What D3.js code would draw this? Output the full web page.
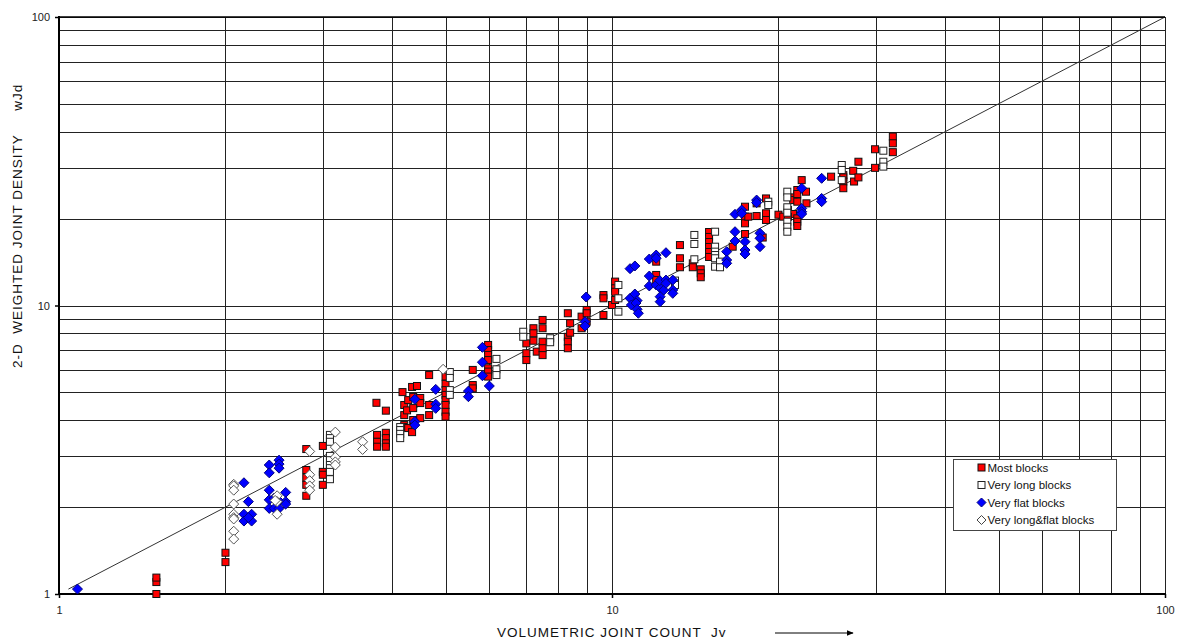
<!DOCTYPE html>
<html>
<head>
<meta charset="utf-8">
<script src="https://cdn.jsdelivr.net/npm/d3@7/dist/d3.min.js"></script>
<style>
  html, body { margin: 0; padding: 0; background: #fff; }
  svg { display: block; font-family: "Liberation Sans", Arial, sans-serif; }
</style>
</head>
<body>
<svg id="chart" width="1181" height="641"></svg>
<script>
// [Jv, wJd] pairs for each block class
const mostBlocks = [
  [1.5,1.0],[1.5,1.10],[1.5,1.14],
  [2.0,1.29],[2.0,1.39],
  [2.8,3.18],[2.8,2.69],[2.8,2.53],[2.8,2.39],[2.8,2.19],
  [3.0,3.26],[3.0,2.65],[3.0,2.59],[3.0,2.39],
  [3.75,4.60],[3.9,4.32],
  [3.76,3.56],[3.76,3.37],[3.76,3.24],
  [3.9,3.62],[3.9,3.47],[3.9,3.33],[3.9,3.24],
  [4.18,5.01],[4.21,4.52],[4.21,4.17],[4.21,3.85],[4.19,3.79],
  [4.28,4.70],[4.26,4.33],[4.28,3.76],
  [4.35,5.22],[4.44,5.26],[4.37,4.82],[4.37,4.41],[4.37,4.01],[4.35,3.64],
  [4.5,4.78],[4.5,4.59],[4.5,4.07],
  [4.67,5.74],[4.67,4.52],[4.67,4.17],
  [5.0,5.67],[5.0,5.35],[5.0,5.09],[5.0,4.90],[5.0,4.70],[5.0,4.52],[5.0,4.28],[5.0,4.12],
  [5.6,5.98],[5.6,5.30],[5.6,5.16],
  [5.97,7.30],[5.97,7.01],[5.97,6.74],[5.97,6.47],[5.97,6.06],[5.97,5.90],[5.97,5.67],
  [7.0,7.39],[7.0,6.83],[7.0,6.47],
  [7.21,8.34],[7.21,8.01],[7.21,7.55],[7.31,6.92],
  [7.49,8.91],[7.49,8.34],[7.49,7.49],[7.49,7.11],[7.49,6.73],
  [8.32,9.40],[8.32,7.79],[8.32,7.49],[8.32,7.11],
  [8.4,8.68],[8.4,8.05],
  [8.81,9.15],[8.81,8.34],[9.0,9.65],[9.0,9.40],[9.0,8.79],
  [9.65,10.87],[9.65,10.59],[9.65,9.27],
  [10.0,10.04],
  [10.13,12.1],[10.13,11.47],[10.13,11.16],[10.13,10.45],
  [12.02,14.19],[12.02,12.76],[12.02,12.25],
  [13.27,16.2],[13.27,14.58],[13.27,13.57],
  [14.0,14.0],[14.0,13.57],
  [14.47,13.35],[14.47,12.93],[14.47,12.53],
  [14.98,17.98],[14.98,17.28],[14.98,16.6],[14.98,15.95],[14.98,15.33],[14.98,14.73],
  [16.53,15.99],
  [17.4,22.0],[17.4,20.32],[17.4,19.27],[17.4,17.69],[17.64,20.32],
  [18.26,22.6],[18.26,20.42],
  [18.73,17.2],
  [18.99,23.5],[18.99,20.87],[18.99,19.79],
  [20.0,20.64],[20.4,20.32],[20.8,21.43],[21.25,20.76],[20.8,20.3],
  [21.27,23.7],[21.27,23.2],
  [21.63,25.14],[21.63,24.35],[21.63,22.9],[21.63,20.05],[21.63,19.52],[21.63,18.86],
  [22.03,27.2],[22.43,24.8],[22.47,22.6],
  [24.9,27.96],
  [26.2,28.3],[26.2,27.8],[26.2,26.9],[26.2,25.5],
  [27.3,29.3],[27.4,26.9],[27.9,31.5],[27.9,27.8],
  [29.9,34.8],[29.9,30.0],
  [32.2,38.5],[32.2,36.5],[32.2,34.0]
];

const veryLongBlocks = [
  [3.09,3.56],[3.09,3.47],[3.09,3.37],[3.09,3.01],[3.09,2.91],[3.09,2.80],[3.09,2.73],[3.09,2.65],[3.09,2.50],
  [4.14,3.79],[4.14,3.70],[4.14,3.59],[4.14,3.47],
  [5.09,5.88],[5.09,5.61],[5.09,5.09],[5.09,4.90],
  [6.18,6.53],[6.18,6.01],[6.18,5.74],
  [6.91,8.11],[6.91,7.79],
  [7.73,7.70],[7.73,7.46],
  [10.27,11.78],[10.27,10.59],[10.27,9.52],
  [13.0,12.2],[13.0,11.78],
  [14.09,17.56],[14.09,16.34],[14.09,14.46],
  [15.36,18.02],[15.36,15.99],[15.36,15.37],[15.36,14.96],[15.36,14.58],[15.36,13.63],
  [15.68,14.19],[15.68,13.57],
  [19.17,22.9],[19.17,22.3],
  [20.75,24.8],[20.75,23.7],[20.75,21.9],[20.75,20.97],[20.75,19.52],[20.75,18.75],[20.75,18.02],
  [26.03,30.69],[26.03,29.5],[26.03,27.2],
  [30.95,34.4],[30.95,31.5],[30.95,30.3]
];

const veryFlatBlocks = [
  [1.08,1.04],
  [2.16,2.43],
  [2.16,1.89],[2.23,1.89],[2.16,1.79],[2.23,1.79],[2.20,1.84],
  [2.20,2.09],
  [2.40,2.80],[2.40,2.63],
  [2.50,2.91],[2.50,2.82],[2.50,2.73],
  [2.40,2.29],[2.40,2.12],[2.40,1.98],
  [2.45,2.15],[2.50,2.10],[2.45,1.98],[2.50,1.98],
  [2.57,2.25],[2.57,2.09],[2.57,2.05],
  [4.40,4.73],[4.40,3.96],[4.40,3.85],
  [4.80,5.12],[4.80,4.55],[4.80,4.40],
  [5.50,5.05],[5.50,4.83],
  [5.83,7.16],[5.83,6.36],[5.83,5.71],
  [6.0,5.26],
  [8.98,10.7],[8.94,8.79],[8.94,8.49],
  [10.78,10.59],[11.0,10.96],[11.1,10.4],[10.84,10.04],[11.05,10.2],[11.1,9.70],[11.16,9.40],
  [10.78,13.42],[11.0,13.71],
  [11.68,14.49],[11.68,12.65],[11.68,11.69],
  [12.02,14.96],[12.02,14.58],
  [12.02,11.78],[12.22,11.5],[12.4,11.3],[12.2,12.2],
  [12.22,10.73],[12.22,10.31],
  [12.52,15.24],
  [12.52,12.25],[12.52,11.94],
  [12.88,12.25],[12.88,11.32],[12.88,11.02],
  [16.12,15.37],[16.12,14.38],[16.12,14.0],
  [16.69,20.7],[16.69,18.02],[16.69,16.74],
  [17.16,21.43],[17.16,20.87],
  [17.40,16.64],[17.40,15.57],[17.40,15.09],
  [18.26,23.2],[18.26,22.72],
  [18.52,17.8],[18.52,17.1],[18.52,15.99],
  [22.03,25.5],[22.03,21.7],[22.03,21.14],[22.03,20.76],
  [23.94,27.6],[23.94,23.5],[23.94,22.9]
];

const veryLongFlatBlocks = [
  [2.07,2.40],[2.07,2.37],[2.07,2.29],[2.07,2.05],[2.07,1.89],[2.07,1.84],[2.07,1.82],[2.07,1.65],[2.07,1.55],
  [2.48,2.19],[2.48,2.09],[2.48,1.89],[2.46,2.11],
  [2.84,3.12],[2.84,2.59],[2.84,2.47],[2.84,2.37],[2.84,2.29],
  [3.16,3.64],[3.16,3.23],[3.16,2.98],[3.16,2.87],[3.16,2.80],
  [3.54,3.37],[3.54,3.17],
  [4.95,6.01]
];

const legendLabels = ["Most blocks", "Very long blocks", "Very flat blocks", "Very long&flat blocks"];
const axisTickValues = [1, 10, 100];
const gridValues = [2,3,4,5,6,7,8,9,10,20,30,40,50,60,70,80,90,100];
const refLine = [[1.04, 1.04], [100, 100]];   // wJd = Jv

const svg = d3.select("#chart");
const W = 1181, H = 641;
const plot = { left: 59, right: 1165, top: 17, bottom: 594 };

const x = d3.scaleLog().domain([1, 100]).range([plot.left, plot.right]);
const y = d3.scaleLog().domain([1, 100]).range([plot.bottom, plot.top]);

svg.append("rect").attr("width", W).attr("height", H).attr("fill", "#fff");

// grid
const grid = svg.append("g").attr("shape-rendering", "crispEdges");
grid.selectAll("line.v").data(gridValues).join("line")
  .attr("x1", d => Math.round(x(d)) + 0.5).attr("x2", d => Math.round(x(d)) + 0.5)
  .attr("y1", plot.top).attr("y2", plot.bottom)
  .attr("stroke", "#222").attr("stroke-width", 1);
grid.selectAll("line.h").data(gridValues).join("line")
  .attr("y1", d => Math.round(y(d)) + 0.5).attr("y2", d => Math.round(y(d)) + 0.5)
  .attr("x1", plot.left).attr("x2", plot.right)
  .attr("stroke", "#222").attr("stroke-width", 1);

// reference line wJd = Jv
const line = d3.line().x(d => x(d[0])).y(d => y(d[1]));
svg.append("path").datum(refLine)
  .attr("d", line).attr("fill", "none")
  .attr("stroke", "#333").attr("stroke-width", 1);

// axes
const yAxis = d3.axisLeft(y).tickValues(axisTickValues).tickFormat(d3.format("d"))
  .tickSize(4).tickPadding(5);
const xAxis = d3.axisBottom(x).tickValues(axisTickValues).tickFormat(d3.format("d"))
  .tickSize(4).tickPadding(8);

const gy = svg.append("g").attr("transform", `translate(${plot.left},0)`).call(yAxis);
const gx = svg.append("g").attr("transform", `translate(0,${plot.bottom})`).call(xAxis);
[gx, gy].forEach(g => {
  g.select(".domain").remove();
  g.selectAll(".tick line").attr("stroke", "#000").attr("stroke-width", 1.5);
  g.selectAll(".tick text").attr("fill", "#222")
    .style("font-family", "'Liberation Sans', Arial, sans-serif").style("font-size", "11px");
});

// plot frame: heavy left/bottom axes, top border
svg.append("line").attr("x1", plot.left).attr("x2", plot.left)
  .attr("y1", plot.top - 1).attr("y2", plot.bottom + 1)
  .attr("stroke", "#000").attr("stroke-width", 2);
svg.append("line").attr("x1", plot.left - 1).attr("x2", plot.right + 1)
  .attr("y1", plot.bottom).attr("y2", plot.bottom)
  .attr("stroke", "#000").attr("stroke-width", 2);
svg.append("line").attr("x1", plot.left).attr("x2", plot.right)
  .attr("y1", plot.top).attr("y2", plot.top)
  .attr("stroke", "#000").attr("stroke-width", 1.5);

// markers
const sq = 7, dm = 5;
const diamondPath = r => `M0,${-r}L${r},0L0,${r}L${-r},0Z`;

const marks = svg.append("g");
marks.append("g").selectAll("rect").data(mostBlocks).join("rect")
  .attr("x", d => x(d[0]) - sq / 2).attr("y", d => y(d[1]) - sq / 2)
  .attr("width", sq).attr("height", sq)
  .attr("fill", "#ff0000").attr("stroke", "#111").attr("stroke-width", 1);

marks.append("g").selectAll("rect").data(veryLongBlocks).join("rect")
  .attr("x", d => x(d[0]) - sq / 2).attr("y", d => y(d[1]) - sq / 2)
  .attr("width", sq).attr("height", sq)
  .attr("fill", "#fff").attr("stroke", "#222").attr("stroke-width", 1);

marks.append("g").selectAll("path").data(veryFlatBlocks).join("path")
  .attr("transform", d => `translate(${x(d[0])},${y(d[1])})`)
  .attr("d", diamondPath(dm))
  .attr("fill", "#0000ff").attr("stroke", "#000080").attr("stroke-width", 1);

marks.append("g").selectAll("path").data(veryLongFlatBlocks).join("path")
  .attr("transform", d => `translate(${x(d[0])},${y(d[1])})`)
  .attr("d", diamondPath(dm))
  .attr("fill", "#fff").attr("stroke", "#555").attr("stroke-width", 1);

// legend
const lg = svg.append("g").attr("transform", "translate(953,459)");
lg.append("rect").attr("x", 0.5).attr("y", 0.5).attr("width", 163).attr("height", 71)
  .attr("fill", "#fff").attr("stroke", "#444").attr("stroke-width", 1);
const rowY = [8.5, 26, 43.5, 61];
const mk = 28.5;
lg.append("rect").attr("x", mk - 3.5).attr("y", rowY[0] - 3.5).attr("width", 7).attr("height", 7)
  .attr("fill", "#ff0000").attr("stroke", "#111");
lg.append("rect").attr("x", mk - 3.5).attr("y", rowY[1] - 3.5).attr("width", 7).attr("height", 7)
  .attr("fill", "#fff").attr("stroke", "#222");
lg.append("path").attr("transform", `translate(${mk},${rowY[2]})`).attr("d", diamondPath(4.5))
  .attr("fill", "#0000ff").attr("stroke", "#000080");
lg.append("path").attr("transform", `translate(${mk},${rowY[3]})`).attr("d", diamondPath(4.5))
  .attr("fill", "#fff").attr("stroke", "#444");
lg.selectAll("text").data(legendLabels).join("text")
  .attr("x", 34.5).attr("y", (d, i) => rowY[i] + 4)
  .attr("fill", "#111").style("font-size", "11.5px")
  .text(d => d);

// axis titles
svg.append("text")
  .attr("x", 497).attr("y", 637)
  .attr("fill", "#111").style("font-size", "13.5px").style("letter-spacing", "1px")
  .style("white-space", "pre")
  .text("VOLUMETRIC JOINT COUNT  Jv");

svg.append("defs").append("marker")
  .attr("id", "arrowhead").attr("viewBox", "0 0 10 10")
  .attr("refX", 9).attr("refY", 5).attr("markerWidth", 7).attr("markerHeight", 7)
  .attr("markerUnits", "userSpaceOnUse").attr("orient", "auto")
  .append("path").attr("d", "M0,1L10,5L0,9Z").attr("fill", "#000");
svg.append("line").attr("x1", 775).attr("x2", 853).attr("y1", 633).attr("y2", 633)
  .attr("stroke", "#000").attr("stroke-width", 1).attr("marker-end", "url(#arrowhead)");

svg.append("text")
  .attr("transform", "translate(22,368) rotate(-90)")
  .attr("fill", "#111").style("font-size", "13.5px").style("letter-spacing", "1px")
  .style("white-space", "pre")
  .text("2-D  WEIGHTED JOINT DENSITY     wJd");
</script>
</body>
</html>
